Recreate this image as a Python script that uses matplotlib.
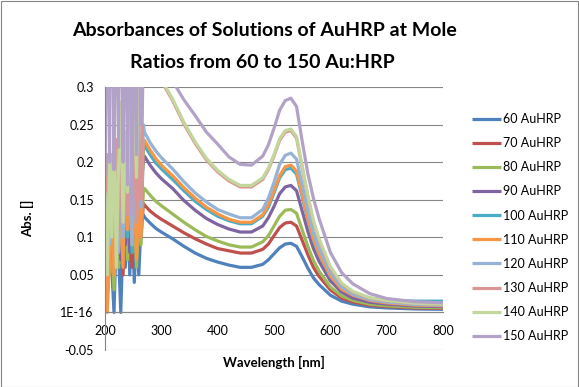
import matplotlib
matplotlib.use("Agg")
import matplotlib.pyplot as plt
from matplotlib.patches import Rectangle

plt.rcParams['font.family'] = ['Lato', 'DejaVu Sans']

# ---------------- data ----------------
series_names = ["60 AuHRP", "70 AuHRP", "80 AuHRP", "90 AuHRP", "100 AuHRP",
                "110 AuHRP", "120 AuHRP", "130 AuHRP", "140 AuHRP", "150 AuHRP"]
colors = ["#4F81BD", "#C0504D", "#9BBB59", "#8064A2", "#4BACC6",
          "#F79646", "#95B3D7", "#D99694", "#C3D69B", "#B3A2C7"]

# noisy low-wavelength region (nm)
noisy_wl = [200, 204, 208, 212, 216, 220, 224, 228, 232, 236, 240, 244, 248, 252, 256, 260, 264, 268]
# smooth region (nm)
smooth_wl = [270, 280, 290, 300, 320, 340, 360, 380, 400, 420, 440, 460, 480, 490, 500, 510,
             520, 530, 540, 550, 560, 570, 580, 600, 620, 640, 670, 700, 750, 800]

noisy_60 = [0.10, 0.02, 0.09, 0.06, 0.00, 0.11, 0.08, 0.00, 0.10, 0.06, 0.14, 0.05, 0.14, 0.04, 0.11, 0.05, 0.12, 0.13]
noisy_70 = [0.08, 0.13, 0.06, 0.10, 0.04, 0.12, 0.07, 0.11, 0.05, 0.13, 0.08, 0.12, 0.06, 0.14, 0.09, 0.12, 0.10, 0.145]
noisy_80 = [0.00, 0.10, 0.05, 0.09, 0.03, 0.13, 0.06, 0.10, 0.08, 0.15, 0.07, 0.14, 0.08, 0.12, 0.06, 0.13, 0.09, 0.16]
noisy_90 = [0.09, 0.12, 0.07, 0.14, 0.08, 0.10, 0.15, 0.07, 0.13, 0.09, 0.14, 0.08, 0.16, 0.10, 0.14, 0.11, 0.17, 0.20]
noisy_100 = [0.05, 0.15, 0.08, 0.17, 0.06, 0.18, 0.09, 0.16, 0.07, 0.19, 0.10, 0.17, 0.08, 0.15, 0.11, 0.18, 0.10, 0.22]
noisy_110 = [0.06, 0.00, 0.07, 0.14, 0.05, 0.17, 0.08, 0.15, 0.06, 0.23, 0.11, 0.18, 0.09, 0.17, 0.07, 0.16, 0.10, 0.23]
noisy_120 = [0.12, 0.18, 0.09, 0.21, 0.11, 0.19, 0.08, 0.22, 0.10, 0.17, 0.13, 0.24, 0.09, 0.20, 0.12, 0.25, 0.14, 0.25]
noisy_130 = [0.15, 0.21, 0.12, 0.19, 0.14, 0.23, 0.11, 0.20, 0.15, 0.24, 0.13, 0.22, 0.16, 0.25, 0.12, 0.21, 0.15, 0.36]
noisy_140 = [0.16, 0.05, 0.20, 0.10, 0.26, 0.06, 0.19, 0.28, 0.12, 0.24, 0.16, 0.30, 0.14, 0.35, 0.18, 0.40, 0.30, 0.40]
noisy_150 = [0.18, 0.50, 0.20, 0.60, 0.19, 0.50, 0.22, 0.60, 0.20, 0.50, 0.17, 0.60, 0.13, 0.50, 0.21, 0.60, 0.25, 0.55]

smooth_60 = [0.127, 0.119, 0.112, 0.107, 0.098, 0.088, 0.079, 0.072, 0.067, 0.063, 0.060, 0.060, 0.064, 0.070, 0.078, 0.086,
             0.091, 0.092, 0.088, 0.074, 0.059, 0.046, 0.037, 0.023, 0.015, 0.011, 0.0074, 0.006, 0.0046, 0.0041]
smooth_70 = [0.143, 0.135, 0.129, 0.124, 0.115, 0.106, 0.098, 0.091, 0.085, 0.082, 0.079, 0.079, 0.084, 0.091, 0.102, 0.113,
             0.119, 0.120, 0.115, 0.096, 0.077, 0.060, 0.048, 0.030, 0.019, 0.014, 0.0096, 0.0078, 0.006, 0.0054]
smooth_80 = [0.165, 0.156, 0.148, 0.142, 0.131, 0.120, 0.110, 0.101, 0.095, 0.090, 0.087, 0.087, 0.094, 0.102, 0.115, 0.128,
             0.136, 0.137, 0.132, 0.110, 0.088, 0.069, 0.055, 0.034, 0.022, 0.016, 0.011, 0.0089, 0.0069, 0.0062]
smooth_90 = [0.208, 0.196, 0.186, 0.178, 0.165, 0.149, 0.136, 0.125, 0.117, 0.111, 0.107, 0.107, 0.115, 0.126, 0.141, 0.158,
             0.167, 0.169, 0.162, 0.135, 0.108, 0.085, 0.068, 0.042, 0.027, 0.019, 0.0135, 0.011, 0.0085, 0.0076]
smooth_100 = [0.222, 0.210, 0.199, 0.191, 0.177, 0.162, 0.148, 0.137, 0.128, 0.122, 0.118, 0.118, 0.128, 0.140, 0.159, 0.179,
              0.190, 0.192, 0.184, 0.154, 0.123, 0.096, 0.077, 0.048, 0.032, 0.025, 0.019, 0.016, 0.015, 0.015]
smooth_110 = [0.229, 0.216, 0.205, 0.196, 0.182, 0.166, 0.152, 0.140, 0.131, 0.124, 0.120, 0.120, 0.130, 0.143, 0.162, 0.182,
              0.194, 0.196, 0.188, 0.157, 0.125, 0.098, 0.078, 0.049, 0.031, 0.023, 0.016, 0.0127, 0.0098, 0.0088]
smooth_120 = [0.240, 0.226, 0.215, 0.206, 0.191, 0.174, 0.159, 0.147, 0.137, 0.131, 0.126, 0.126, 0.137, 0.152, 0.173, 0.197,
              0.209, 0.212, 0.204, 0.170, 0.136, 0.106, 0.085, 0.053, 0.034, 0.024, 0.017, 0.0138, 0.0106, 0.0095]
smooth_130 = [0.368, 0.344, 0.324, 0.308, 0.282, 0.251, 0.225, 0.203, 0.187, 0.175, 0.167, 0.167, 0.177, 0.190, 0.208, 0.229,
              0.240, 0.242, 0.232, 0.193, 0.154, 0.120, 0.096, 0.059, 0.038, 0.027, 0.019, 0.0155, 0.012, 0.0105]
smooth_140 = [0.370, 0.346, 0.326, 0.310, 0.284, 0.253, 0.227, 0.205, 0.189, 0.177, 0.169, 0.169, 0.179, 0.192, 0.210, 0.231,
              0.242, 0.244, 0.234, 0.195, 0.156, 0.122, 0.098, 0.061, 0.039, 0.028, 0.0195, 0.0159, 0.0122, 0.011]
smooth_150 = [0.400, 0.376, 0.355, 0.337, 0.308, 0.283, 0.262, 0.240, 0.224, 0.207, 0.197, 0.196, 0.208, 0.223, 0.245, 0.269,
              0.282, 0.285, 0.274, 0.228, 0.185, 0.152, 0.125, 0.080, 0.053, 0.038, 0.025, 0.0185, 0.0143, 0.0128]

noisy_all = [noisy_60, noisy_70, noisy_80, noisy_90, noisy_100,
             noisy_110, noisy_120, noisy_130, noisy_140, noisy_150]
smooth_all = [smooth_60, smooth_70, smooth_80, smooth_90, smooth_100,
              smooth_110, smooth_120, smooth_130, smooth_140, smooth_150]

x_ticks = [200, 300, 400, 500, 600, 700, 800]
y_ticks = [-0.05, 0.0, 0.05, 0.1, 0.15, 0.2, 0.25, 0.3]
y_tick_labels = ["-0.05", "1E-16", "0.05", "0.1", "0.15", "0.2", "0.25", "0.3"]

title_line1 = "Absorbances of Solutions of AuHRP at Mole"
title_line2 = "Ratios from 60 to 150 Au:HRP"
x_label = "Wavelength [nm]"
y_label = "Abs. []"

# ---------------- figure ----------------
W, H = 579, 387
fig = plt.figure(figsize=(W / 100, H / 100), dpi=100)
fig.patch.set_facecolor("white")
fig.patches.append(Rectangle((0.5 / W, 0.5 / H), 1 - 1.5 / W, 1 - 1.5 / H, transform=fig.transFigure,
                             fill=False, edgecolor="#868686", linewidth=0.8))

left, right, top, bottom = 105, 443, 87, 350
ax = fig.add_axes([left / W, 1 - bottom / H, (right - left) / W, (bottom - top) / H])

for name, col, nv, sv in zip(series_names, colors, noisy_all, smooth_all):
    ax.plot(noisy_wl + smooth_wl, nv + sv, color=col, lw=2.3, label=name,
            solid_joinstyle="round", solid_capstyle="butt")

ax.set_xlim(200, 800)
ax.set_ylim(-0.05, 0.3)
ax.set_xticks(x_ticks)
ax.set_yticks(y_ticks)
ax.set_yticklabels(y_tick_labels)
ax.grid(axis="y", color="#868686", lw=0.8)
ax.set_axisbelow(True)

for s in ["top", "right"]:
    ax.spines[s].set_visible(False)
ax.spines["left"].set_color("#868686")
ax.spines["left"].set_linewidth(0.8)
ax.spines["bottom"].set_position(("data", 0))
ax.spines["bottom"].set_color("#868686")
ax.spines["bottom"].set_linewidth(0.8)
ax.tick_params(axis="x", length=0, pad=9, labelsize=9)
ax.tick_params(axis="y", length=0, pad=8, labelsize=9)

fig.text(264 / W, 1 - 30 / H, title_line1, ha="center", va="center", fontsize=14, fontweight="bold")
fig.text(262 / W, 1 - 62 / H, title_line2, ha="center", va="center", fontsize=14, fontweight="bold")
fig.text(274 / W, 1 - 362 / H, x_label, ha="center", va="center", fontsize=9.5, fontweight="bold")
fig.text(28 / W, 1 - 218 / H, y_label, ha="center", va="center", rotation=90, fontsize=9.5, fontweight="bold")

fig.legend(loc="upper left", bbox_to_anchor=(472 / W, 1 - 113 / H), frameon=False, fontsize=9,
           handlelength=2.3, handletextpad=0.15, labelspacing=0.97, borderaxespad=0, borderpad=0)

fig.savefig("out.png", dpi=100)
